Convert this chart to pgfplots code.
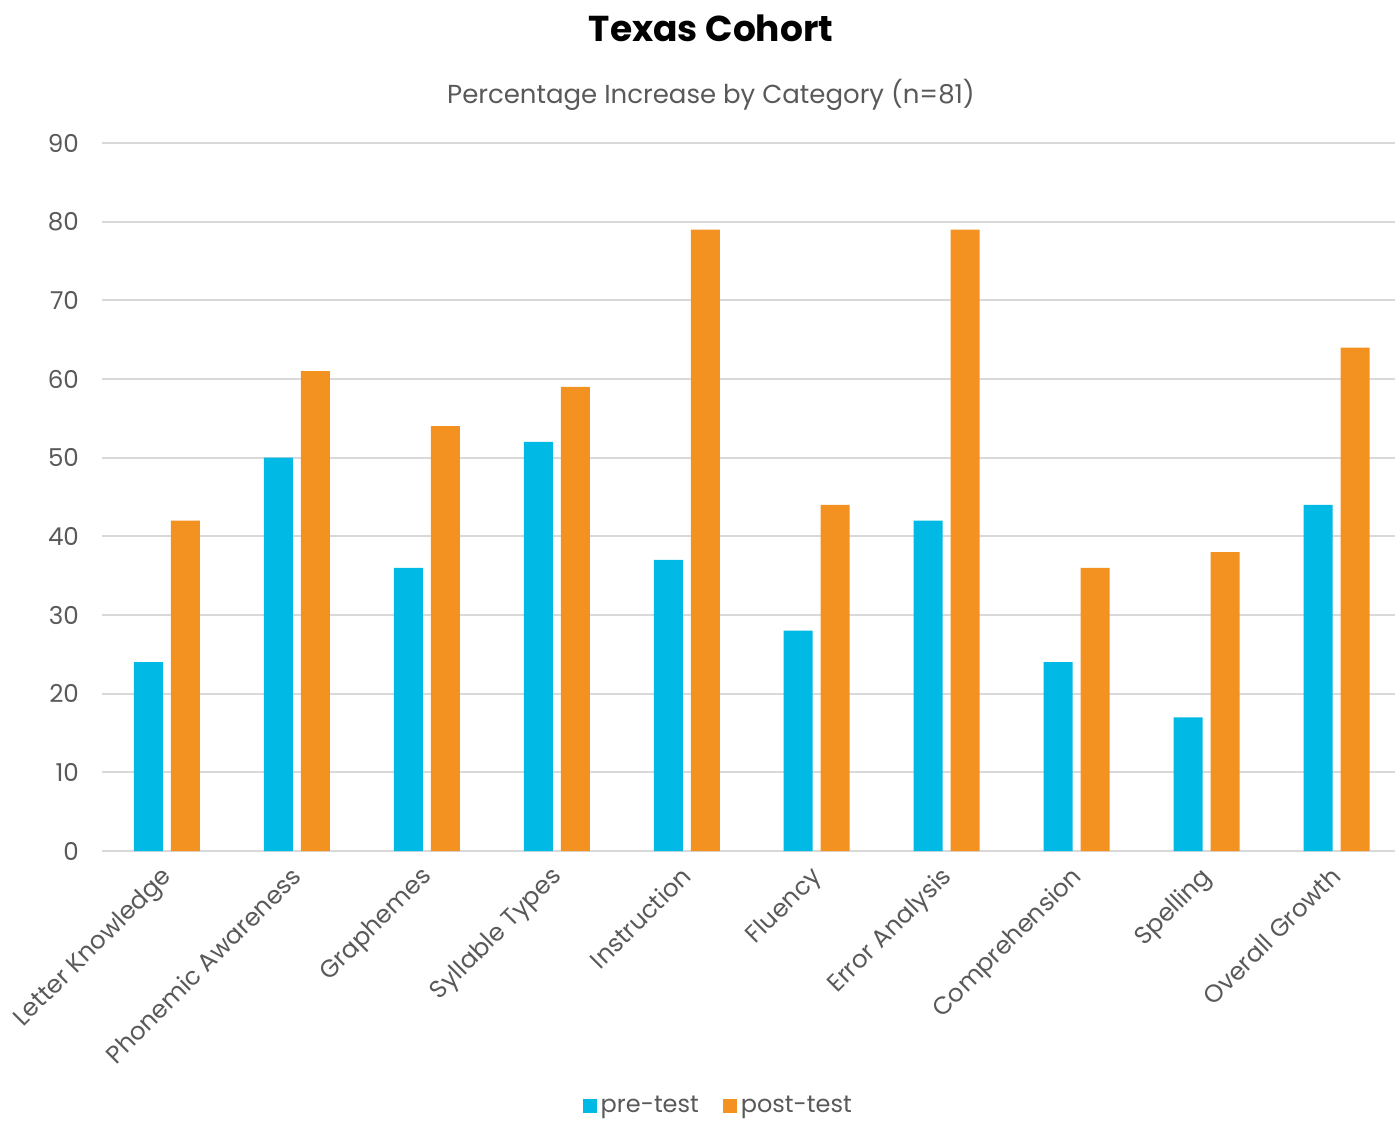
\documentclass[border=0pt]{standalone}
\usepackage{pgfplots}
\pgfplotsset{compat=1.18}
\usepackage{fontspec}
\setmainfont{Poppins}
\definecolor{precol}{HTML}{00B9E4}
\definecolor{postcol}{HTML}{F39121}
\definecolor{gridcol}{HTML}{D9D9D9}
\definecolor{txtcol}{HTML}{595959}
\pgfplotstableread{
x pre post
0 24 42
1 50 61
2 36 54
3 52 59
4 37 79
5 28 44
6 42 79
7 24 36
8 17 38
9 44 64
}\datatable
\begin{document}
\begin{tikzpicture}
\useasboundingbox (-51pt,-134.5pt) rectangle (646.5pt,425.5pt);
\begin{axis}[
  at={(0,0)}, anchor=south west,
  scale only axis,
  width=649.75pt, height=354pt,
  xmin=-0.5, xmax=9.5,
  ymin=0, ymax=90,
  ytick={0,10,...,90},
  xtick=data,
  xticklabels={Letter Knowledge,Phonemic Awareness,Graphemes,Syllable Types,Instruction,Fluency,Error Analysis,Comprehension,Spelling,Overall Growth},
  x tick label style={rotate=45, anchor=north east, font=\fontsize{12.3}{14}\selectfont, text=txtcol, inner sep=0pt, xshift=-7.3pt, yshift=-2.2pt},
  y tick label style={font=\fontsize{12.3}{14}\selectfont, text=txtcol},
  /pgf/number format/assume math mode=true,
  ymajorgrids,
  grid style={gridcol, line width=1pt},
  axis x line*=bottom,
  axis y line*=left,
  x axis line style={draw=gridcol, line width=1pt, -},
  y axis line style={draw=none},
  major tick length=0pt,
  yticklabel style={xshift=-8pt},
  ybar,
  bar width=14.5pt,
  legend style={at={(0.475,-0.383)}, anchor=south, draw=none, inner sep=1pt, legend columns=2, font=\fontsize{12}{14}\selectfont, text=txtcol, /tikz/every even column/.append style={column sep=10pt}},
  legend image code/.code={\fill[#1] (0pt,-3.5pt) rectangle (7pt,3.5pt);},
]
\addplot[fill=precol, draw=none, bar shift=-9.25pt] table[x=x, y=pre] {\datatable};
\addlegendentry{pre-test}
\addplot[fill=postcol, draw=none, bar shift=9.25pt] table[x=x, y=post] {\datatable};
\addlegendentry{post-test}
\end{axis}
\node[font=\bfseries\fontsize{18}{21}\selectfont] at (304.5pt,411.5pt) {Texas Cohort};
\node[font=\fontsize{13}{15}\selectfont, text=txtcol] at (304.5pt,378pt) {Percentage Increase by Category (n=81)};
\end{tikzpicture}
\end{document}
